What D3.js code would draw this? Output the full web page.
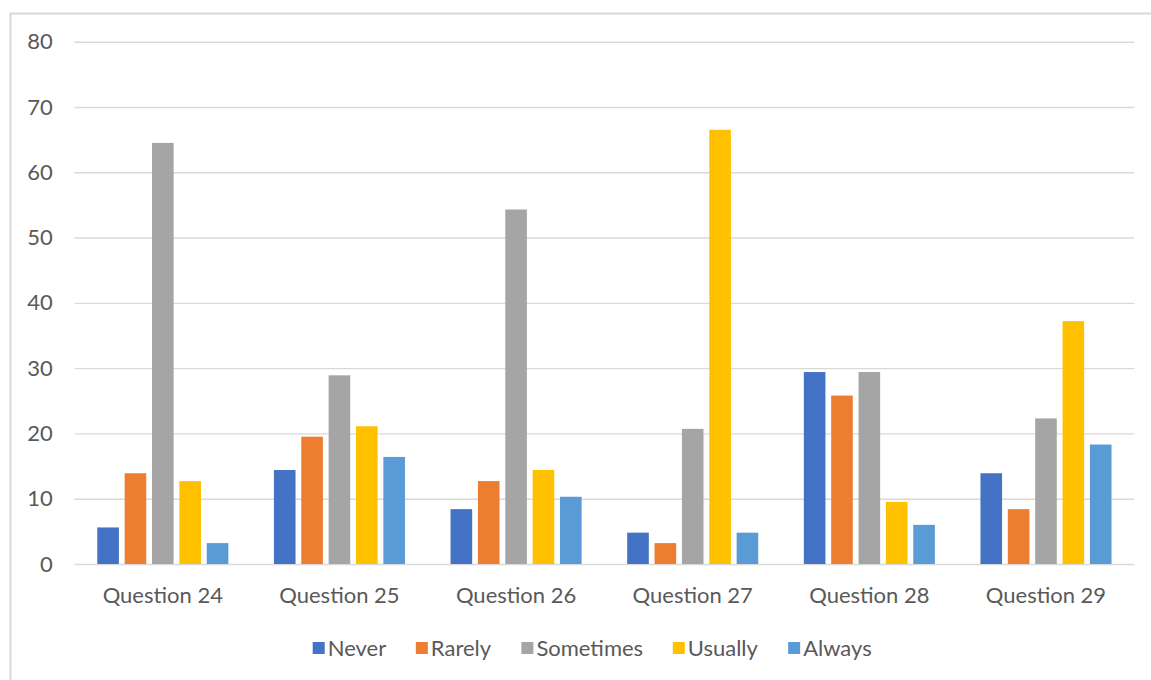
<!DOCTYPE html>
<html>
<head>
<meta charset="utf-8">
<script src="https://cdn.jsdelivr.net/npm/d3@7"></script>
<style>
  html, body { margin: 0; padding: 0; background: #fff; }
  svg { display: block; }
  text { font-family: Lato, "Open Sans", sans-serif; fill: #595959; }
</style>
</head>
<body>
<svg id="chart" width="1151" height="680"></svg>
<script>
const categories = ["Question 24", "Question 25", "Question 26", "Question 27", "Question 28", "Question 29"];
const seriesNames = ["Never", "Rarely", "Sometimes", "Usually", "Always"];
const seriesColors = ["#4472C4", "#ED7D31", "#A5A5A5", "#FFC000", "#5B9BD5"];
const never     = [5.6, 14.4, 8.4, 4.8, 29.4, 13.9];
const rarely    = [13.9, 19.5, 12.7, 3.2, 25.8, 8.4];
const sometimes = [64.5, 28.9, 54.3, 20.7, 29.4, 22.3];
const usually   = [12.7, 21.1, 14.4, 66.5, 9.5, 37.2];
const always    = [3.2, 16.4, 10.3, 4.8, 6.0, 18.3];
const yTicks = [0, 10, 20, 30, 40, 50, 60, 70, 80];

const seriesValues = [never, rarely, sometimes, usually, always];

const svg = d3.select("#chart");
const plot = { left: 74.5, right: 1134.3, top: 41.7, bottom: 564 };
const FS = 22;

// chart border
svg.append("rect")
  .attr("x", 10.5).attr("y", 13.5)
  .attr("width", 1180).attr("height", 700)
  .attr("fill", "none").attr("stroke", "#d9d9d9").attr("stroke-width", 2);

const x0 = d3.scaleBand().domain(categories).range([plot.left, plot.right]).padding(0);
const groupFrac = 0.742;
const x1 = d3.scaleBand().domain(seriesNames)
  .range([0, x0.bandwidth() * groupFrac])
  .paddingInner(0.21).paddingOuter(0);
const groupOffset = x0.bandwidth() * (1 - groupFrac) / 2;
const y = d3.scaleLinear().domain([0, 80]).range([plot.bottom, plot.top]);

// gridlines + y labels
const yAxis = d3.axisLeft(y).tickValues(yTicks).tickSize(-(plot.right - plot.left)).tickFormat(d3.format("d"));
const gy = svg.append("g").attr("transform", `translate(${plot.left},0)`).call(yAxis);
gy.select(".domain").remove();
gy.selectAll(".tick line").attr("stroke", "#d9d9d9").attr("stroke-width", 1.4);
gy.selectAll(".tick text").attr("font-size", FS).attr("fill", "#595959")
  .attr("font-family", "Lato, sans-serif").attr("x", 52.7 - plot.left);

// bars
const rows = [];
categories.forEach((c, i) => {
  seriesNames.forEach((s, j) => rows.push({ cat: c, ser: s, val: seriesValues[j][i], color: seriesColors[j] }));
});
svg.append("g").selectAll("rect").data(rows).join("rect")
  .attr("x", d => x0(d.cat) + groupOffset + x1(d.ser))
  .attr("width", x1.bandwidth())
  .attr("y", d => y(d.val))
  .attr("height", d => y(0) - y(d.val))
  .attr("fill", d => d.color);

// x axis labels
const xAxis = d3.axisBottom(x0).tickSize(0).tickPadding(0);
const gx = svg.append("g").attr("transform", `translate(0,${plot.bottom})`).call(xAxis);
gx.select(".domain").remove();
gx.selectAll(".tick text").attr("font-size", FS).attr("fill", "#595959")
  .attr("font-family", "Lato, sans-serif").attr("dy", null).attr("y", 39);

// legend
const legend = svg.append("g");
const items = legend.selectAll("g").data(seriesNames).join("g");
items.append("rect").attr("width", 12).attr("height", 12).attr("y", -6)
  .attr("fill", (d, i) => seriesColors[i]);
items.append("text").text(d => d).attr("x", 15).attr("y", 7.5).attr("font-size", FS);
const widths = [];
items.each(function () { widths.push(this.getBBox().width); });
const span = 559, startX = 312.7;
const gap = (span - d3.sum(widths)) / (widths.length - 1);
let cx = startX;
items.each(function (d, i) {
  d3.select(this).attr("transform", `translate(${cx},648)`);
  cx += widths[i] + gap;
});
</script>
</body>
</html>
